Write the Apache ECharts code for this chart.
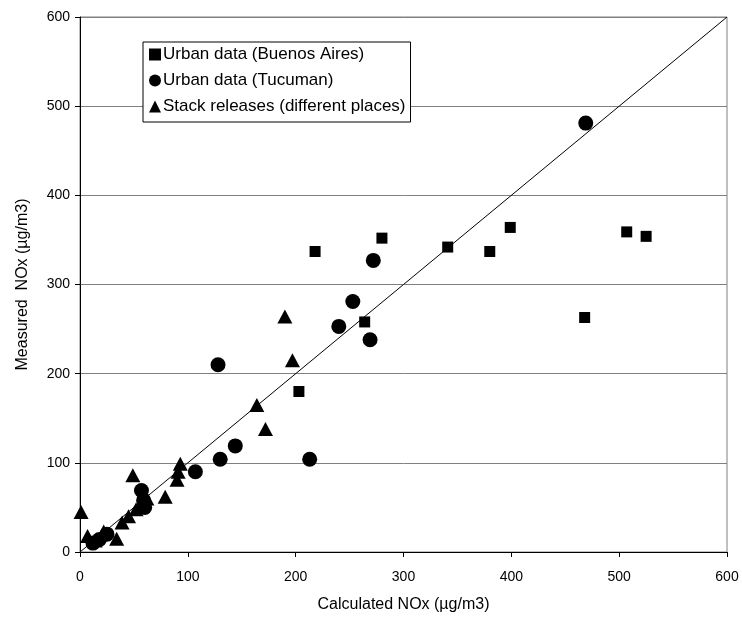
<!DOCTYPE html>
<html>
<head>
<meta charset="utf-8">
<script src="https://cdn.jsdelivr.net/npm/echarts@6/dist/echarts.min.js"></script>
<style>
  html, body { margin: 0; padding: 0; background: #fff; }
  #chart { width: 742px; height: 621px; }
</style>
</head>
<body>
<div id="chart"></div>
<script>
// 数据 (calculated, measured)
const buenosAires = [[218, 337], [280, 352], [264, 258], [203, 180], [341, 342], [380, 337], [399, 364], [468, 263], [507, 359], [525, 354]];
const tucuman = [[12, 10], [18, 14], [25, 20], [57, 69], [59, 58], [60, 50], [107, 90], [130, 104], [144, 119], [213, 104], [128, 210], [240, 253], [253, 281], [269, 238], [272, 327], [469, 481]];
const stacks = [[1, 45], [7, 18], [14, 13], [22, 23], [34, 15], [39, 33], [45, 40], [52, 48], [49, 86], [62, 60], [79, 62], [90, 81], [91, 90], [93, 99], [164, 165], [172, 138], [190, 264], [197, 215]];
const diagonal = [[0, 0], [600, 600]];
const seriesNames = ['Urban data (Buenos Aires)', 'Urban data (Tucuman)', 'Stack releases (different places)'];

const font = 'Liberation Sans, Arial, sans-serif';
const myChart = echarts.init(document.getElementById('chart'));

const axisCommon = {
  type: 'value',
  min: 0,
  max: 600,
  interval: 100,
  nameLocation: 'middle',
  nameTextStyle: { color: '#000', fontSize: 16, fontFamily: font },
  axisLine: { show: true, lineStyle: { color: '#000', width: 1 } },
  axisTick: { show: true, inside: false, length: 5, lineStyle: { color: '#000' } },
  axisLabel: { color: '#000', fontSize: 14, fontFamily: font },
};

const option = {
  animation: false,
  backgroundColor: '#fff',
  grid: {
    left: 80, right: 15, top: 17, bottom: 69,
    show: true, borderColor: '#808080', borderWidth: 1
  },
  legend: {
    orient: 'vertical',
    left: 143, top: 42,
    data: [
      { name: seriesNames[0], icon: 'rect' },
      { name: seriesNames[1], icon: 'circle' },
      { name: seriesNames[2], icon: 'triangle' }
    ],
    itemWidth: 12, itemHeight: 12, itemGap: 9,
    padding: [4, 5, 7, 6],
    backgroundColor: '#fff',
    borderColor: '#000', borderWidth: 1,
    textStyle: { color: '#000', fontSize: 17, fontFamily: font, padding: [0, 0, 0, -3] }
  },
  xAxis: Object.assign({}, axisCommon, {
    name: 'Calculated NOx (µg/m3)',
    nameGap: 45,
    splitLine: { show: false },
    axisLabel: Object.assign({}, axisCommon.axisLabel, { margin: 18 })
  }),
  yAxis: Object.assign({}, axisCommon, {
    name: 'Measured  NOx (µg/m3)',
    nameGap: 49,
    splitLine: { show: true, lineStyle: { color: '#808080', width: 1 } },
    axisLabel: Object.assign({}, axisCommon.axisLabel, { margin: 10 })
  }),
  series: [
    {
      type: 'line',
      data: diagonal,
      symbol: 'none',
      silent: true,
      lineStyle: { color: '#000', width: 1 },
      z: 1
    },
    {
      name: seriesNames[0], type: 'scatter', data: buenosAires,
      symbol: 'rect', symbolSize: 11,
      itemStyle: { color: '#000', opacity: 1 }, z: 3
    },
    {
      name: seriesNames[1], type: 'scatter', data: tucuman,
      symbol: 'circle', symbolSize: 15,
      itemStyle: { color: '#000', opacity: 1 }, z: 3
    },
    {
      name: seriesNames[2], type: 'scatter', data: stacks,
      symbol: 'triangle', symbolSize: [15, 14],
      itemStyle: { color: '#000', opacity: 1 }, z: 3
    }
  ]
};
myChart.setOption(option);
</script>
</body>
</html>
